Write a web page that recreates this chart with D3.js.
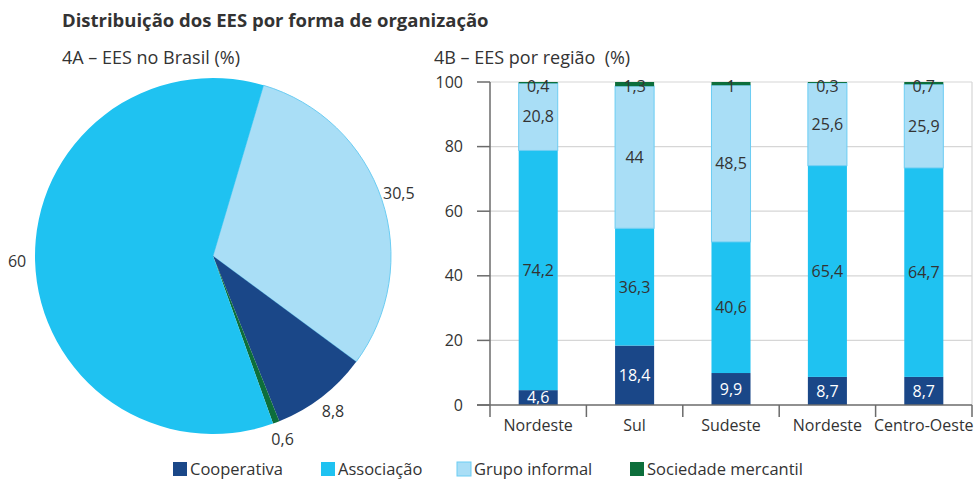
<!DOCTYPE html>
<html>
<head>
<meta charset="utf-8">
<script src="https://cdn.jsdelivr.net/npm/d3@7"></script>
<style>
  body { margin: 0; background: #fff; }
  text { font-family: "Open Sans", "Noto Sans", sans-serif; fill: #333; }
</style>
</head>
<body>
<div id="container"></div>
<script>
// series names and colours
var series = ['Cooperativa', 'Associação', 'Grupo informal', 'Sociedade mercantil'];
var colors = ['#1a4788', '#1fc2f1', '#a9def6', '#0d6e3b'];

// 4A - Brasil (%)
var brasilValues = [8.8, 60, 30.5, 0.6];

// 4B - por região (%)
var regions = ['Nordeste', 'Sul', 'Sudeste', 'Nordeste ', 'Centro-Oeste'];
var cooperativa = [4.6, 18.4, 9.9, 8.7, 8.7];
var associacao = [74.2, 36.3, 40.6, 65.4, 64.7];
var grupoInformal = [20.8, 44, 48.5, 25.6, 25.9];
var sociedade = [0.4, 1.3, 1, 0.3, 0.7];
var yTicks = [0, 20, 40, 60, 80, 100];

var fmt = function(v) { return String(v).replace('.', ','); };

var svg = d3.select('#container').append('svg')
  .attr('width', 975)
  .attr('height', 480);

// titles
svg.append('text')
  .attr('x', 62).attr('y', 27)
  .style('font-size', '18.5px')
  .style('font-weight', 'bold')
  .text('Distribuição dos EES por forma de organização');

svg.append('text')
  .attr('x', 62).attr('y', 64)
  .style('font-size', '18px')
  .text('4A – EES no Brasil (%)');

svg.append('text')
  .attr('x', 434).attr('y', 64)
  .style('font-size', '18px')
  .style('white-space', 'pre')
  .text('4B – EES por região  (%)');

// ---- pie ----
var pieData = [
  { name: series[2], value: brasilValues[2], color: colors[2] },
  { name: series[0], value: brasilValues[0], color: colors[0] },
  { name: series[3], value: brasilValues[3], color: colors[3] },
  { name: series[1], value: brasilValues[1], color: colors[1] }
];

var radius = 178;
var pie = d3.pie()
  .sort(null)
  .value(function(d) { return d.value; })
  .startAngle(0.288)
  .endAngle(0.288 + 2 * Math.PI);

var arc = d3.arc().innerRadius(0).outerRadius(radius);
var labelArc = d3.arc().innerRadius(radius + 18).outerRadius(radius + 18);

var pieG = svg.append('g').attr('transform', 'translate(213,256)');

pieG.selectAll('path')
  .data(pie(pieData))
  .enter()
  .append('path')
  .attr('d', arc)
  .attr('fill', function(d) { return d.data.color; })
  .attr('stroke', function(d) { return d.data.name == 'Grupo informal' ? '#6ccdf3' : 'none'; })
  .attr('stroke-width', 1);

pieG.selectAll('.pie-label')
  .data(pie(pieData))
  .enter()
  .append('text')
  .attr('class', 'pie-label')
  .attr('transform', function(d) { return 'translate(' + labelArc.centroid(d) + ')'; })
  .attr('text-anchor', 'middle')
  .attr('dy', '0.35em')
  .style('font-size', '16px')
  .text(function(d) { return fmt(d.data.value); });

// ---- stacked bars ----
var plotLeft = 490, plotRight = 972, plotTop = 82, plotBottom = 405;

var x = d3.scaleBand()
  .domain(regions)
  .range([plotLeft, plotRight])
  .paddingInner(0.595)
  .paddingOuter(0.2975);

var y = d3.scaleLinear()
  .domain([0, 100])
  .range([plotBottom, plotTop]);

var rows = regions.map(function(r, i) {
  return { region: r, 'Cooperativa': cooperativa[i], 'Associação': associacao[i],
    'Grupo informal': grupoInformal[i], 'Sociedade mercantil': sociedade[i] };
});

var stack = d3.stack().keys(series);
var layers = stack(rows);

// gridlines
svg.append('g')
  .selectAll('line')
  .data(yTicks.slice(1))
  .enter()
  .append('line')
  .attr('x1', plotLeft).attr('x2', plotRight)
  .attr('y1', function(d) { return y(d); })
  .attr('y2', function(d) { return y(d); })
  .attr('stroke', '#d6d6d6')
  .attr('stroke-width', 1.2);

// right border
svg.append('line')
  .attr('x1', plotRight).attr('x2', plotRight)
  .attr('y1', plotTop).attr('y2', plotBottom)
  .attr('stroke', '#d6d6d6')
  .attr('stroke-width', 1.2);

var layerG = svg.append('g')
  .selectAll('g')
  .data(layers)
  .enter()
  .append('g')
  .attr('fill', function(d, i) { return colors[i]; });

layerG.selectAll('rect')
  .data(function(d) { return d.map(function(p) { p.key = d.key; return p; }); })
  .enter()
  .append('rect')
  .attr('x', function(d) { return x(d.data.region); })
  .attr('width', x.bandwidth())
  .attr('y', function(d) { return y(d[1]); })
  .attr('height', function(d) { return y(d[0]) - y(d[1]); })
  .attr('stroke', function(d) { return d.key == 'Grupo informal' ? '#6ccdf3' : 'none'; })
  .attr('stroke-width', 1);

// segment labels
layers.forEach(function(layer, li) {
  svg.append('g')
    .selectAll('text')
    .data(layer)
    .enter()
    .append('text')
    .attr('x', function(d) { return x(d.data.region) + x.bandwidth() / 2; })
    .attr('y', function(d) {
      if (li == 3) return y(d[1]) + 4;
      return (y(d[0]) + y(d[1])) / 2;
    })
    .attr('dy', '0.35em')
    .attr('text-anchor', 'middle')
    .style('font-size', '16px')
    .style('fill', li == 0 ? '#fff' : '#333')
    .text(function(d) { return fmt(d.data[layer.key]); });
});

// y axis
var axisColor = '#6b6b6b';
svg.append('line')
  .attr('x1', plotLeft).attr('x2', plotLeft)
  .attr('y1', plotTop).attr('y2', plotBottom + 12)
  .attr('stroke', axisColor).attr('stroke-width', 1.5);

svg.append('g')
  .selectAll('line')
  .data(yTicks)
  .enter()
  .append('line')
  .attr('x1', plotLeft - 13).attr('x2', plotLeft)
  .attr('y1', function(d) { return y(d); })
  .attr('y2', function(d) { return y(d); })
  .attr('stroke', axisColor).attr('stroke-width', 1.5);

svg.append('g')
  .selectAll('text')
  .data(yTicks)
  .enter()
  .append('text')
  .attr('x', plotLeft - 27)
  .attr('y', function(d) { return y(d); })
  .attr('dy', '0.35em')
  .attr('text-anchor', 'end')
  .style('font-size', '16px')
  .text(function(d) { return d; });

// x axis
svg.append('line')
  .attr('x1', plotLeft - 13).attr('x2', plotRight)
  .attr('y1', plotBottom).attr('y2', plotBottom)
  .attr('stroke', axisColor).attr('stroke-width', 1.5);

var step = x.step();
svg.append('g')
  .selectAll('line')
  .data(regions)
  .enter()
  .append('line')
  .attr('x1', function(d) { return x(d) + x.bandwidth() / 2 + step / 2; })
  .attr('x2', function(d) { return x(d) + x.bandwidth() / 2 + step / 2; })
  .attr('y1', plotBottom).attr('y2', plotBottom + 12)
  .attr('stroke', axisColor).attr('stroke-width', 1.5);

svg.append('g')
  .selectAll('text')
  .data(regions)
  .enter()
  .append('text')
  .attr('x', function(d) { return x(d) + x.bandwidth() / 2; })
  .attr('y', plotBottom + 20)
  .attr('dy', '0.35em')
  .attr('text-anchor', 'middle')
  .style('font-size', '16px')
  .text(function(d) { return d.trim(); });

// legend
var legendX = [173, 321, 457, 630];
var legend = svg.append('g')
  .selectAll('g')
  .data(series)
  .enter()
  .append('g')
  .attr('transform', function(d, i) { return 'translate(' + legendX[i] + ',462)'; });

legend.append('rect')
  .attr('width', 14).attr('height', 14)
  .attr('fill', function(d, i) { return colors[i]; })
  .attr('stroke', function(d) { return d == 'Grupo informal' ? '#6ccdf3' : 'none'; });

legend.append('text')
  .attr('x', 17).attr('y', 7)
  .attr('dy', '0.35em')
  .style('font-size', '16.5px')
  .text(function(d) { return d; });
</script>
</body>
</html>
